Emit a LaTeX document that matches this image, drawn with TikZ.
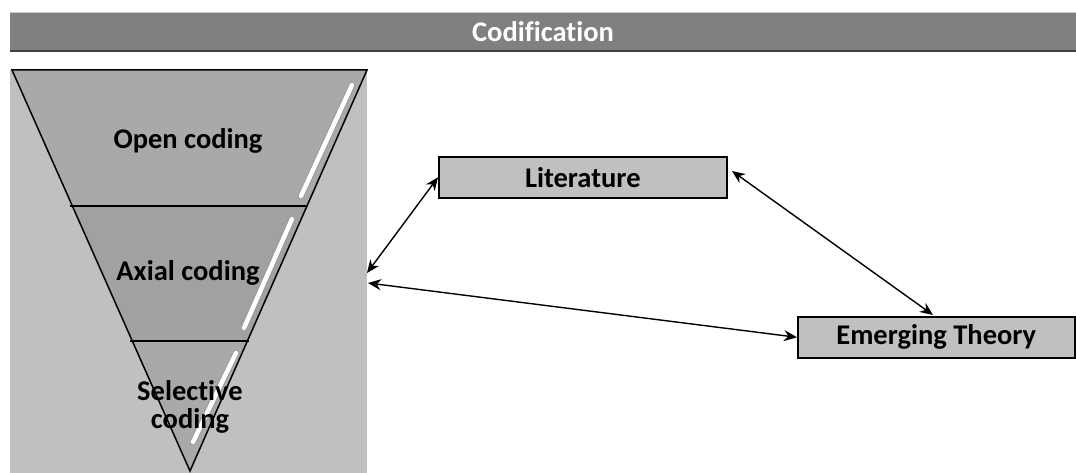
\documentclass[tikz,border=0pt]{standalone}
\usepackage{fontspec}
\setmainfont{Carlito}[Ligatures=NoCommon]
\usetikzlibrary{arrows.meta}
\definecolor{hdr}{HTML}{808080}
\definecolor{bgg}{HTML}{C0C0C0}
\definecolor{band}{HTML}{A9A9A9}
\tikzset{
  lbl/.style={font=\fontsize{28.5}{29}\selectfont\bfseries, text=black, align=center, inner sep=0pt},
  boxnode/.style={draw=black, line width=1.6pt, fill=bgg, font=\fontsize{28.5}{29}\selectfont\bfseries, inner sep=0pt, anchor=north west},
  link/.style={line width=1.4pt, {Stealth[length=13pt,width=11pt]}-{Stealth[length=13pt,width=11pt]}},
  bandline/.style={draw=black, line width=1.5pt},
  gloss/.style={draw=gray!80, double=white, double distance=4.5pt, line width=0.9pt, line cap=round}
}
\begin{document}
\begin{tikzpicture}[x=1pt,y=-1pt]
\useasboundingbox (0,0) rectangle (1076,473);
% header
\fill[hdr] (10,12) rectangle (1076,51);
\draw[gray!40, line width=1pt] (10,12.5) -- (1076,12.5);
\draw[black!75, line width=2pt] (10,51) -- (1076,51);
\node[font=\fontsize{28.5}{29}\selectfont\bfseries, text=white, inner sep=0pt] (title) at (543,32) {Codification};
% left background
\fill[bgg] (10,70) rectangle (367,473);
% funnel bands
\fill[band] (12,70) -- (367,70) -- (307,206) -- (72.5,206) -- cycle;
\fill[band!95!black] (72.5,206) -- (307,206) -- (247,341) -- (132.5,341) -- cycle;
\fill[band] (132.5,341) -- (247,341) -- (190,470) -- cycle;
% gloss highlights
\draw[gloss] (352,85) -- (301,196);
\draw[gloss] (292,219) -- (244,328);
\draw[gloss] (236,353) -- (193,442);
% outlines
\draw[bandline] (12,70) -- (367,70) -- (190,471) -- cycle;
\draw[bandline, line width=1.8pt] (70,206) -- (308,206);
\draw[bandline, line width=1.8pt] (130,341) -- (249,341);
% labels
\node[lbl] (open) at (188,141) {Open coding};
\node[lbl] (axial) at (188,273) {Axial coding};
\node[lbl, font=\fontsize{28.5}{28}\selectfont\bfseries] (sel) at (190,407) {Selective\\coding};
% boxes
\node[boxnode, minimum width=288pt, minimum height=41pt] (lit) at (438,156) {Literature};
\node[boxnode, minimum width=277pt, minimum height=41pt] (emt) at (797,316) {Emerging Theory};
% free ends on funnel side
\coordinate (f1) at (367,273);
\coordinate (f2) at (368,283);
\coordinate (l2) at (732,171);
\coordinate (e2) at (933,315);
% connectors
\draw[link] (f1) -- (lit.west);
\draw[link] (l2) -- (e2);
\draw[link] (f2) -- (emt.west);
\end{tikzpicture}
\end{document}
